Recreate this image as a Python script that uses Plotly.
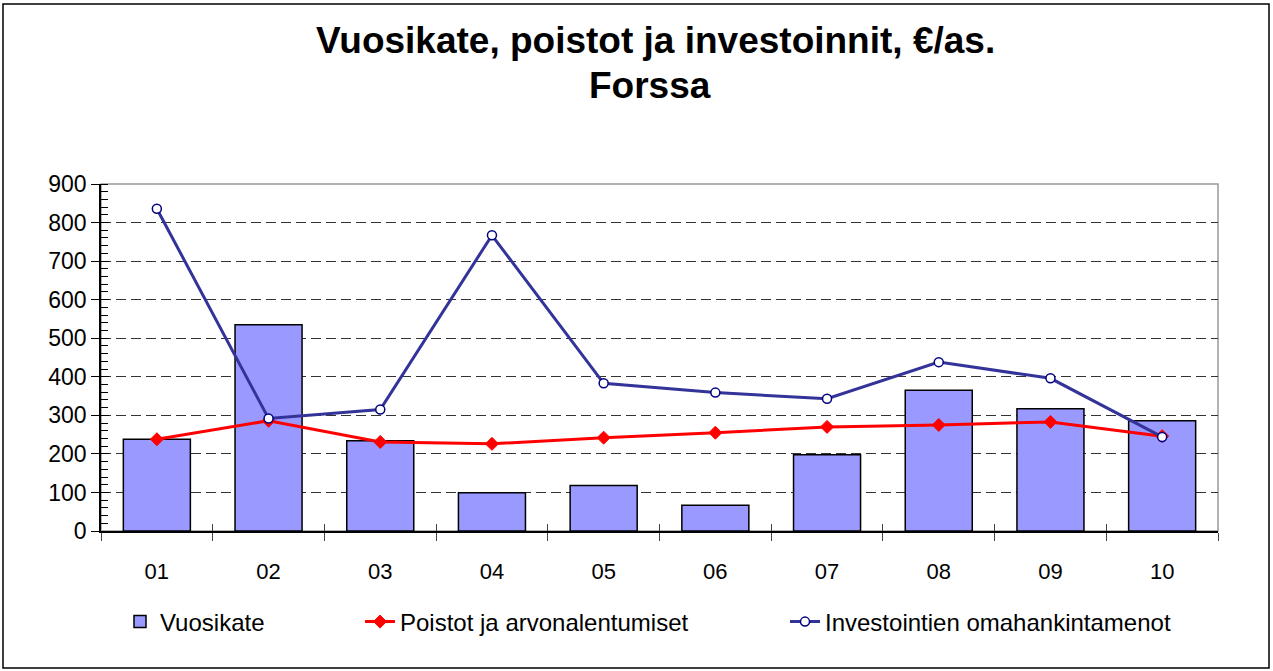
import plotly.graph_objects as go

categories = ["01", "02", "03", "04", "05", "06", "07", "08", "09", "10"]
vuosikate = [238, 535, 234, 99, 118, 67, 198, 365, 317, 286]
poistot = [238, 286, 231, 226, 242, 255, 270, 275, 283, 246]
investoinnit = [836, 292, 315, 767, 383, 359, 343, 438, 396, 244]

W, H = 1273, 671
L, R, T, B = 101, 1218, 184, 531
pw, ph = R - L, B - T

def px(x):
    return (x - L) / pw

def py(y):
    return (B - y) / ph

FONT = "Liberation Sans, Arial, sans-serif"

fig = go.Figure()
fig.add_trace(go.Bar(
    x=categories, y=vuosikate, name="Vuosikate",
    marker=dict(color="#9999FF", line=dict(color="#000000", width=1.5)),
    legend="legend",
))
fig.add_trace(go.Scatter(
    x=categories, y=poistot, name="Poistot ja arvonalentumiset",
    mode="lines+markers",
    line=dict(color="#FF0000", width=3),
    marker=dict(symbol="diamond", size=10, color="#FF0000", line=dict(color="#FF0000", width=1)),
    legend="legend2",
))
fig.add_trace(go.Scatter(
    x=categories, y=investoinnit, name="Investointien omahankintamenot",
    mode="lines+markers",
    line=dict(color="#333399", width=3),
    marker=dict(symbol="circle", size=9, color="#FFFFFF", line=dict(color="#000080", width=1.5)),
    legend="legend3",
))

legend_common = dict(
    orientation="h", yanchor="middle", xanchor="left",
    font=dict(family=FONT, size=24, color="#000000"),
    bgcolor="rgba(0,0,0,0)", itemwidth=30,
)

fig.update_layout(
    width=W, height=H,
    margin=dict(l=L, r=W - R, t=T, b=H - B, pad=0),
    paper_bgcolor="#FFFFFF", plot_bgcolor="#FFFFFF",
    bargap=0.4,
    font=dict(family=FONT, size=22, color="#000000"),
    showlegend=True,
    legend=dict(x=px(120), y=py(622), **legend_common),
    legend2=dict(x=px(360), y=py(622), **legend_common),
    legend3=dict(x=px(785), y=py(622), **legend_common),
    xaxis=dict(
        range=[-0.5, 9.5],
        showline=True, linecolor="#000000", linewidth=1.5,
        ticks="outside", tickson="boundaries", ticklen=8, tickcolor="#444444",
        tickfont=dict(family=FONT, size=22, color="#000000"),
        ticklabelstandoff=20,
        showgrid=False,
    ),
    xaxis2=dict(
        overlaying="x", type="linear", range=[-0.5, 9.5],
        tickvals=[i - 0.5 for i in range(11)], ticks="inside", ticklen=7,
        tickcolor="#444444", showticklabels=False, showgrid=False,
        zeroline=False, showline=False,
    ),
    yaxis=dict(
        range=[0, 900], dtick=100,
        showline=True, linecolor="#000000", linewidth=1.5,
        ticks="outside", ticklen=8, tickcolor="#000000",
        tickfont=dict(family=FONT, size=23, color="#000000"),
        showgrid=True, gridcolor="#333333", gridwidth=1, griddash="10px,5px",
        zeroline=False,
        minor=dict(dtick=20, ticks="inside", ticklen=7, tickcolor="#000000", showgrid=False),
    ),
    yaxis2=dict(
        overlaying="y", range=[0, 900], dtick=100, side="left",
        ticks="inside", ticklen=8, tickcolor="#000000",
        showticklabels=False, showgrid=False, zeroline=False, showline=False,
    ),
)

# dummy invisible trace to activate secondary axes
fig.add_trace(go.Scatter(x=[0], y=[0], xaxis="x2", yaxis="y2", mode="markers",
                         marker=dict(opacity=0), showlegend=False, hoverinfo="skip"))

# plot-area border (gray top/right)
fig.add_shape(type="rect", xref="paper", yref="paper", x0=0, x1=1, y0=0, y1=1,
              line=dict(color="#999999", width=1.5), layer="below")
# outer chart frame
fig.add_shape(type="rect", xref="paper", yref="paper",
              x0=px(3), x1=px(1269), y0=py(668), y1=py(4),
              line=dict(color="#000000", width=1.5))

fig.add_annotation(text="<b>Vuosikate, poistot ja investoinnit, €/as.</b>",
                   xref="paper", yref="paper", x=px(655), y=py(40),
                   xanchor="center", yanchor="middle", showarrow=False,
                   font=dict(family=FONT, size=37, color="#000000"))
fig.add_annotation(text="<b>Forssa</b>",
                   xref="paper", yref="paper", x=px(650), y=py(85),
                   xanchor="center", yanchor="middle", showarrow=False,
                   font=dict(family=FONT, size=37, color="#000000"))

fig.write_html("out.html", config={"displayModeBar": False},
               post_script="document.body.style.margin='0px';")
